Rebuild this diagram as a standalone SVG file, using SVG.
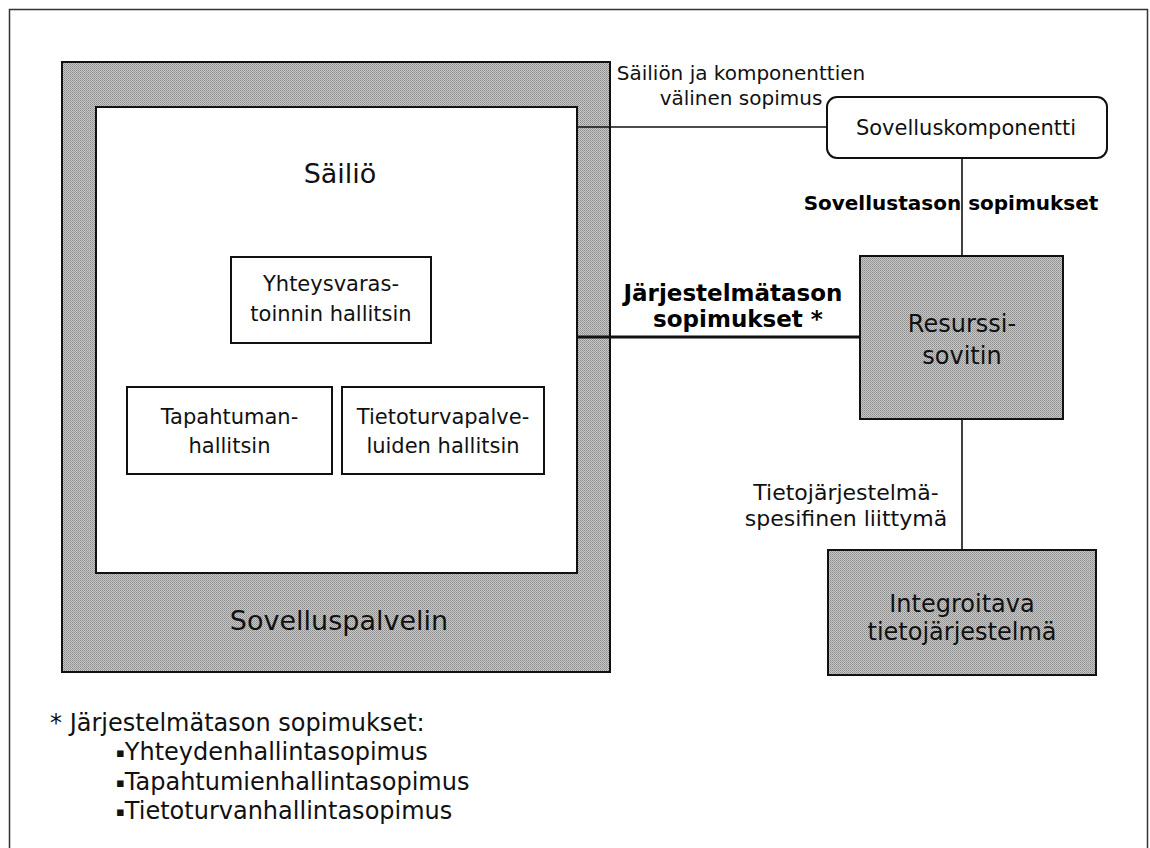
<svg xmlns="http://www.w3.org/2000/svg" width="1150" height="848" viewBox="0 0 1150 848">
  <defs>
    <pattern id="dither" width="2" height="2" patternUnits="userSpaceOnUse">
      <rect width="2" height="2" fill="#c9c9c9"/>
      <rect width="1" height="1" fill="#8c8c8c"/>
      <rect x="1" y="1" width="1" height="1" fill="#9c9c9c"/>
    </pattern>
  </defs>
  <style>
    .t { font-family: "DejaVu Sans", Verdana, sans-serif; fill: #111; text-anchor: middle; }
    .b { font-family: "DejaVu Sans", Verdana, sans-serif; font-weight: bold; fill: #000; text-anchor: middle; }
    .l { font-family: "DejaVu Sans", Verdana, sans-serif; fill: #111; }
    .bul { font-size: 13px; }
    .gray { fill: url(#dither); stroke: #111; stroke-width: 2; }
    .white { fill: #fff; stroke: #111; stroke-width: 2; }
    .conn { stroke: #111; stroke-width: 1.6; fill: none; }
    .thick { stroke: #111; stroke-width: 3; fill: none; }
  </style>
  <rect width="1150" height="848" fill="#fff"/>
  <rect x="9.5" y="9.5" width="1138" height="860" fill="none" stroke="#333" stroke-width="1.5"/>

  <g id="sovelluspalvelin">
    <rect class="gray" x="62" y="62" width="548" height="610"/>
    <text class="t" x="339" y="630" font-size="27">Sovelluspalvelin</text>
  </g>
  <g id="sailio">
    <rect class="white" x="96" y="107" width="481" height="466"/>
    <text class="t" x="340" y="183" font-size="27">Säiliö</text>
  </g>
  <g id="yhteysvarastoinnin-hallitsin">
    <rect class="white" x="231" y="257" width="200" height="86"/>
    <text class="t" x="331" y="291" font-size="21">Yhteysvaras-</text>
    <text class="t" x="331" y="321" font-size="21">toinnin hallitsin</text>
  </g>
  <g id="tapahtumanhallitsin">
    <rect class="white" x="127" y="387" width="205" height="87"/>
    <text class="t" x="229.5" y="424" font-size="21">Tapahtuman-</text>
    <text class="t" x="229.5" y="453" font-size="21">hallitsin</text>
  </g>
  <g id="tietoturvapalveluiden-hallitsin">
    <rect class="white" x="342" y="387" width="202" height="87"/>
    <text class="t" x="443" y="424" font-size="21">Tietoturvapalve-</text>
    <text class="t" x="443" y="453" font-size="21">luiden hallitsin</text>
  </g>

  <g id="connectors">
    <line class="conn" x1="577" y1="127" x2="827" y2="127"/>
    <line class="conn" x1="962" y1="158" x2="962" y2="256"/>
    <line class="thick" x1="577" y1="337" x2="860" y2="337"/>
    <line class="conn" x1="962" y1="419" x2="962" y2="550"/>
  </g>

  <g id="connector-labels">
    <text class="t" x="741" y="80" font-size="20">Säiliön ja komponenttien</text>
    <text class="t" x="741" y="105" font-size="20">välinen sopimus</text>
    <text class="b" x="951" y="210" font-size="20">Sovellustason sopimukset</text>
    <text class="b" x="733" y="301" font-size="23">Järjestelmätason</text>
    <text class="b" x="738" y="327" font-size="23">sopimukset *</text>
    <text class="t" x="846" y="500" font-size="22">Tietojärjestelmä-</text>
    <text class="t" x="846" y="526" font-size="22">spesifinen liittymä</text>
  </g>

  <g id="sovelluskomponentti">
    <rect x="827" y="97" width="280" height="61" rx="10" ry="10" fill="#fff" stroke="#111" stroke-width="2"/>
    <text class="t" x="966" y="135" font-size="21">Sovelluskomponentti</text>
  </g>
  <g id="resurssisovitin">
    <rect class="gray" x="860" y="256" width="203" height="163"/>
    <text class="t" x="962" y="332" font-size="24">Resurssi-</text>
    <text class="t" x="962" y="364" font-size="24">sovitin</text>
  </g>
  <g id="integroitava-tietojarjestelma">
    <rect class="gray" x="828" y="550" width="268" height="125"/>
    <text class="t" x="962" y="612" font-size="24">Integroitava</text>
    <text class="t" x="962" y="640" font-size="24">tietojärjestelmä</text>
  </g>

  <g id="footnote">
    <text class="l" x="50" y="731" font-size="24">* Järjestelmätason sopimukset:</text>
    <text class="l" x="116" y="760" font-size="24"><tspan class="bul" dy="-3">▪</tspan><tspan dy="3">Yhteydenhallintasopimus</tspan></text>
    <text class="l" x="116" y="790" font-size="24"><tspan class="bul" dy="-3">▪</tspan><tspan dy="3">Tapahtumienhallintasopimus</tspan></text>
    <text class="l" x="116" y="819" font-size="24"><tspan class="bul" dy="-3">▪</tspan><tspan dy="3">Tietoturvanhallintasopimus</tspan></text>
  </g>
</svg>
